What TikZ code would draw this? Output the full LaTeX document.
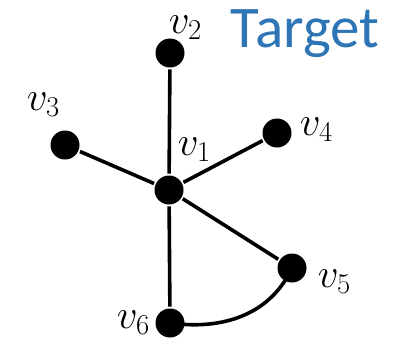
\RequirePackage{fix-cm}
\documentclass[tikz,border=0pt]{standalone}
\usepackage{fontspec}
\setsansfont{Carlito}
\definecolor{targetblue}{HTML}{2E75B6}

\begin{document}
\begin{tikzpicture}[
	x=1pt, y=-1pt,
	line width=3.6pt,
	vertex/.style={
		circle, fill=black,
		inner sep=0pt,
		minimum size=29pt
	},
	vlabel/.style={
		anchor=base west,
		inner sep=0pt,
		font=\fontsize{41}{48}\selectfont
	}
	]
	\useasboundingbox (0,0) rectangle (395,346);
	
	\node[vertex] (v1) at (169,190) {};
	\node[vertex] (v2) at (170,53)  {};
	\node[vertex] (v3) at (65,145)  {};
	\node[vertex] (v4) at (277,133) {};
	\node[vertex] (v5) at (292,268) {};
	\node[vertex] (v6) at (170,323) {};
	
	\draw (v1) -- (v2);
	\draw (v1) -- (v3);
	\draw (v1) -- (v4);
	\draw (v1) -- (v5);
	\draw (v1) -- (v6);
	\draw (v6.center) to[out=-8, in=-115] (v5.center);
	
	\node[vlabel] (l1) at (176,155) {$v_1$};
	\node[vlabel] (l2) at (167,33)  {$v_2$};
	\node[vlabel] (l3) at (25,110)  {$v_3$};
	\node[vlabel] (l4) at (298,135) {$v_4$};
	\node[vlabel] (l5) at (316,287) {$v_5$};
	\node[vlabel] (l6) at (115,328) {$v_6$};
	
	\node[anchor=base, inner sep=0pt, text=targetblue,
		font=\sffamily\fontsize{59}{64}\selectfont] (title) at (305,47) {Target};
	
\end{tikzpicture}
\end{document}
